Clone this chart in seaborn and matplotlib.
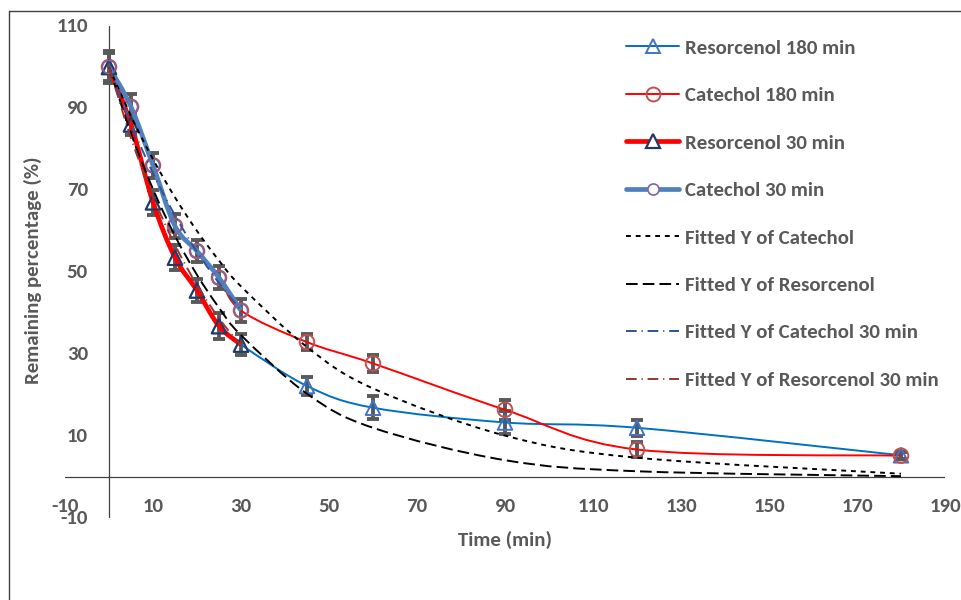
import numpy as np
import pandas as pd
import matplotlib
matplotlib.use("Agg")
import matplotlib.pyplot as plt
from matplotlib.path import Path
from matplotlib.patches import PathPatch
from matplotlib.lines import Line2D
from matplotlib.transforms import offset_copy
import seaborn as sns

# ---- measured data -------------------------------------------------------
time_min = [0, 5, 10, 15, 20, 25, 30, 45, 60, 90, 120, 180]
resorcinol = [100, 86.0, 67.0, 53.5, 45.5, 36.8, 32.3, 22.2, 16.9, 13.3, 12.0, 5.3]
catechol = [100, 90.3, 76.0, 61.2, 55.1, 48.6, 40.6, 32.9, 27.7, 16.4, 6.7, 5.2]
resorcinol_err = [4.0, 2.5, 3.0, 3.0, 2.8, 3.2, 2.5, 2.2, 2.8, 2.8, 2.0, 0.8]
catechol_err = [3.5, 3.0, 3.0, 3.0, 2.6, 2.8, 2.8, 2.0, 2.0, 2.5, 1.8, 0.8]

# first 30 minutes
time_30 = [0, 5, 10, 15, 20, 25, 30]
resorcinol_30 = [100, 86.0, 67.0, 53.5, 45.5, 36.8, 32.3]
catechol_30 = [100, 90.3, 76.0, 61.2, 55.1, 48.6, 40.6]

# ---- fitted curves -------------------------------------------------------
fit_catechol = [100, 88.0, 77.5, 68.2, 60.0, 52.8, 46.5, 31.7, 21.6, 10.1, 4.7, 0.8]
fit_resorcinol = [100, 83.8, 70.2, 58.8, 49.3, 41.3, 34.6, 20.3, 12.0, 4.1, 1.4, 0.2]
fit_catechol_30 = [100, 86.1, 74.1, 63.8, 54.9, 47.3, 40.7]
fit_resorcinol_30 = [100, 82.7, 68.4, 56.6, 46.8, 38.7, 32.0]

x_ticks = [-10, 10, 30, 50, 70, 90, 110, 130, 150, 170, 190]
y_ticks = [-10, 10, 30, 50, 70, 90, 110]

labels = ["Resorcenol 180 min", "Catechol 180 min", "Resorcenol 30 min",
          "Catechol 30 min", "Fitted Y of Catechol", "Fitted Y of Resorcenol",
          "Fitted Y of Catechol 30 min", "Fitted Y of Resorcenol 30 min"]

# ---- styling -------------------------------------------------------------
sns.set_style("white")
FAMILY = ["Carlito", "DejaVu Sans"]
plt.rcParams["font.family"] = FAMILY
TXT = "#595959"
FS = 15

C_RES = "#0070C0"
C_RES_MK = "#4472C4"
C_CAT = "#FF0000"
C_CAT_MK = "#C0504D"
C_RES30 = "#FF0000"
C_RES30_MK = "#203864"
C_CAT30 = "#4F81BD"
C_CAT30_MK = "#8064A2"
C_FIT30_CAT = "#2F5597"
C_FIT30_RES = "#943634"

SHORT = (0, (2.5, 2.5))
LONG = (0, (6, 2.6))
DASHDOT = (0, (5.5, 2.5, 0.6, 2.5))


def smooth_path(x, y):
    """Cubic Bezier path through the points (Catmull-Rom style smoothing)."""
    pts = np.column_stack([x, y]).astype(float)
    n = len(pts)
    verts = [pts[0]]
    codes = [Path.MOVETO]
    for i in range(n - 1):
        p0 = pts[max(i - 1, 0)]
        p1 = pts[i]
        p2 = pts[i + 1]
        p3 = pts[min(i + 2, n - 1)]
        verts += [p1 + (p2 - p0) / 6.0, p2 - (p3 - p1) / 6.0, p2]
        codes += [Path.CURVE4] * 3
    return Path(verts, codes)


def draw_smooth(ax, x, y, color, lw, ls="-", z=2):
    patch = PathPatch(smooth_path(x, y), facecolor="none", edgecolor=color,
                      lw=lw, linestyle=ls, zorder=z, capstyle="butt",
                      joinstyle="round")
    ax.add_patch(patch)


def draw_markers(ax, x, y, marker, size, edge, lw, z):
    sns.scatterplot(x=x, y=y, marker=marker, s=size, color=edge,
                    edgecolor=edge, linewidth=lw, zorder=z, ax=ax, legend=False)
    ax.collections[-1].set_facecolor("none")


fig = plt.figure(figsize=(9.61, 6.0), dpi=100)
ax = fig.add_axes([65 / 961, 1 - 518 / 600, 880 / 961, 492 / 600])
ax.set_xlim(-10, 190)
ax.set_ylim(-10, 110)
for s in ax.spines.values():
    s.set_visible(False)
ax.set_xticks([])
ax.set_yticks([])
ax.patch.set_alpha(0)

# axes crossing at the origin
ax.axhline(0, color="#404040", lw=0.9, zorder=1)
ax.axvline(0, color="#404040", lw=0.9, zorder=1)

# tick labels next to the crossing axes
for xv in x_ticks:
    tr = offset_copy(ax.transData, fig=fig, x=0, y=-29, units="dots")
    ax.text(xv, 0, f"{xv}", transform=tr, ha="center", va="center",
            fontsize=FS, fontweight="bold", color=TXT)
for yv in y_ticks:
    tr = offset_copy(ax.transData, fig=fig, x=-21, y=0, units="dots")
    ax.text(0, yv, f"{yv}", transform=tr, ha="right", va="center",
            fontsize=FS, fontweight="bold", color=TXT)

fig.text(505 / 961, 1 - 540 / 600, "Time (min)", ha="center", va="center",
         fontsize=FS, fontweight="bold", color=TXT)
fig.text(33 / 961, 1 - 270 / 600, "Remaining percentage (%)", ha="center",
         va="center", rotation=90, fontsize=FS, fontweight="bold", color=TXT)

# error bars
ax.errorbar(time_min, resorcinol, yerr=resorcinol_err, fmt="none",
            ecolor="#595959", elinewidth=2.8, capsize=4, capthick=2.8, zorder=3)
ax.errorbar(time_min, catechol, yerr=catechol_err, fmt="none",
            ecolor="#595959", elinewidth=2.8, capsize=4, capthick=2.8, zorder=3)

# full 180 min series
draw_smooth(ax, time_min, resorcinol, C_RES, 1.4, z=4)
draw_markers(ax, time_min, resorcinol, "^", 110, C_RES_MK, 1.4, 5)
draw_smooth(ax, time_min, catechol, C_CAT, 1.4, z=4)
draw_markers(ax, time_min, catechol, "o", 110, C_CAT_MK, 1.4, 5)

# first 30 minutes
draw_smooth(ax, time_30, resorcinol_30, C_RES30, 3.4, z=6)
draw_markers(ax, time_30, resorcinol_30, "^", 110, C_RES30_MK, 1.4, 7)
draw_smooth(ax, time_30, catechol_30, C_CAT30, 3.4, z=6)
draw_markers(ax, time_30, catechol_30, "o", 90, C_CAT30_MK, 1.2, 7)

# fitted curves
draw_smooth(ax, time_min, fit_catechol, "black", 1.4, SHORT, z=8)
draw_smooth(ax, time_min, fit_resorcinol, "black", 1.4, LONG, z=8)
draw_smooth(ax, time_30, fit_catechol_30, C_FIT30_CAT, 1.4, DASHDOT, z=8)
draw_smooth(ax, time_30, fit_resorcinol_30, C_FIT30_RES, 1.4, DASHDOT, z=8)

# legend
handles = [
    Line2D([], [], color=C_RES, lw=1.4, marker="^", ms=10, mfc="none",
           mec=C_RES_MK, mew=1.4),
    Line2D([], [], color=C_CAT, lw=1.4, marker="o", ms=10, mfc="none",
           mec=C_CAT_MK, mew=1.4),
    Line2D([], [], color=C_RES30, lw=3.4, marker="^", ms=10, mfc="white",
           mec=C_RES30_MK, mew=1.6),
    Line2D([], [], color=C_CAT30, lw=3.4, marker="o", ms=8, mfc="white",
           mec=C_CAT30_MK, mew=1.2),
    Line2D([], [], color="black", lw=1.4, ls=SHORT),
    Line2D([], [], color="black", lw=1.4, ls=LONG),
    Line2D([], [], color=C_FIT30_CAT, lw=1.4, ls=DASHDOT),
    Line2D([], [], color=C_FIT30_RES, lw=1.4, ls=DASHDOT),
]
leg = ax.legend(handles, labels, loc="upper left",
                bbox_to_anchor=(626 / 961, 1 - 39 / 600),
                bbox_transform=fig.transFigure, frameon=False, borderpad=0,
                borderaxespad=0, handlelength=2.55, handletextpad=0.28,
                labelspacing=1.435,
                prop={"family": FAMILY, "weight": "bold", "size": FS})
for t in leg.get_texts():
    t.set_color(TXT)

# outer chart frame
fig.add_artist(Line2D([8.5 / 961, 8.5 / 961], [0, 1 - 11 / 600],
                      transform=fig.transFigure, color="#404040", lw=1))
fig.add_artist(Line2D([8.5 / 961, 1], [1 - 11 / 600, 1 - 11 / 600],
                      transform=fig.transFigure, color="#404040", lw=1))

fig.savefig("out.png", dpi=100, facecolor="white")
